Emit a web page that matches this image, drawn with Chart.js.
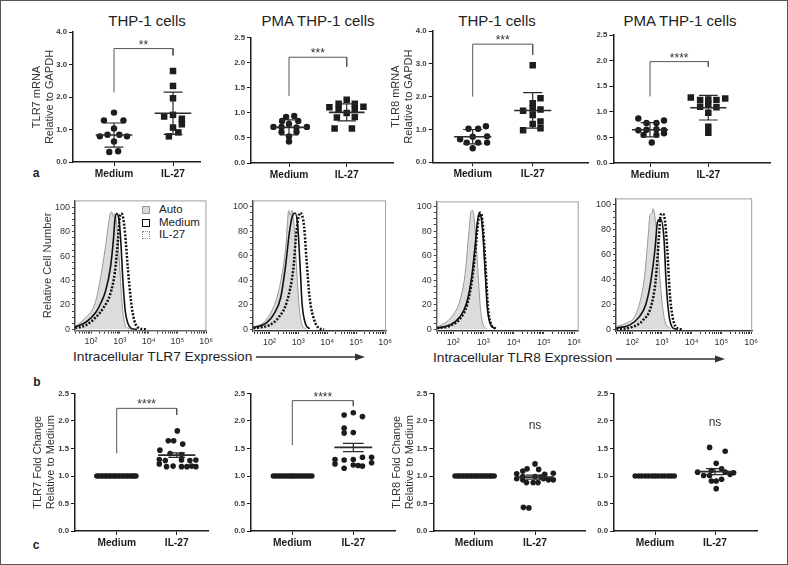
<!DOCTYPE html>
<html>
<head>
<meta charset="utf-8">
<script src="https://cdn.jsdelivr.net/npm/chart.js@4.4.1/dist/chart.umd.min.js"></script>
<style>
  html, body { margin: 0; padding: 0; background: #fff; }
  #fig { position: relative; width: 788px; height: 565px; overflow: hidden; font-family: "Liberation Sans", Arial, Helvetica, sans-serif; color: #222; }
  #fig canvas { position: absolute; }
  .t { position: absolute; white-space: nowrap; transform: translate(-50%, -50%); line-height: 1; }
  .tl { position: absolute; white-space: nowrap; transform: translate(0, -50%); line-height: 1; }
  .ttl { font-size: 15px; }
  .let { font-size: 12px; font-weight: bold; }
  .xt { font-size: 13.7px; }
  .lg { font-size: 11.5px; }
  .sw { position: absolute; width: 6px; height: 6px; transform: translate(-50%, -50%); }
  #frame { position: absolute; left: 0; top: 0; width: 788px; height: 565px; box-sizing: border-box; border: 1px solid #555; pointer-events: none; }
</style>
</head>
<body>
<div id="fig">
  <div class="t ttl" style="left:147px;top:20px">THP-1 cells</div>
  <div class="t ttl" style="left:318px;top:20px">PMA THP-1 cells</div>
  <div class="t ttl" style="left:497px;top:20px">THP-1 cells</div>
  <div class="t ttl" style="left:680px;top:20px">PMA THP-1 cells</div>

  <div class="t let" style="left:36px;top:173px">a</div>
  <div class="t let" style="left:37px;top:382px">b</div>
  <div class="t let" style="left:36px;top:545px">c</div>

  <div class="tl xt" style="left:73px;top:357px">Intracellular TLR7 Expression</div>
  <div class="tl xt" style="left:433px;top:358px">Intracellular TLR8 Expression</div>
  <svg width="788" height="565" style="position:absolute;left:0;top:0;pointer-events:none">
    <line x1="256" y1="357" x2="357" y2="357" stroke="#333" stroke-width="1.3"/>
    <polygon points="355,353.5 365,357 355,360.5" fill="#333"/>
    <line x1="616" y1="359" x2="717" y2="359" stroke="#333" stroke-width="1.3"/>
    <polygon points="715,355.5 725,359 715,362.5" fill="#333"/>
  </svg>

  <div class="sw" style="left:146px;top:210px;background:#d9d9d9;border:1px solid #999"></div>
  <div class="sw" style="left:146px;top:223px;background:#fff;border:1px solid #111"></div>
  <div class="sw" style="left:146px;top:235px;background:#fff;border:1px dotted #888"></div>
  <div class="tl lg" style="left:159px;top:210px">Auto</div>
  <div class="tl lg" style="left:159px;top:223px">Medium</div>
  <div class="tl lg" style="left:159px;top:235px">IL-27</div>
  <div id="frame"></div>
</div>
<script>
var cats = ['Medium', 'IL-27'];

// a: TLR7 / TLR8 mRNA relative to GAPDH (mean +/- SD)
var a1MedVal = [1.52, 1.28, 1.28, 1.03, 0.84, 0.84, 0.79, 0.79, 0.63, 0.31, 0.33];
var a1MedJit = [0, -0.17, 0.16, 0, -0.11, 0.09, -0.24, 0.22, 0, -0.08, 0.07];
var a1IlVal = [2.80, 2.34, 1.96, 1.45, 1.40, 1.33, 1.16, 1.06, 0.91, 0.79];
var a1IlJit = [0, 0, 0, 0, -0.15, 0.15, 0.15, 0, 0.09, -0.07];
var a1Mean = [0.83, 1.50];
var a1Sd = [0.37, 0.65];
var a1Bracket = [2.14, 3.49, 3.28];

var a2MedVal = [0.92, 0.94, 0.84, 0.84, 0.72, 0.72, 0.78, 0.71, 0.72, 0.62, 0.62, 0.53, 0.43];
var a2MedJit = [-0.05, 0.09, -0.12, 0.16, -0.27, -0.13, 0, 0.13, 0.31, -0.13, 0.13, 0, 0];
var a2IlVal = [1.26, 1.18, 1.18, 1.11, 1.12, 1.07, 1.07, 1.00, 0.91, 0.92, 0.69, 0.69];
var a2IlJit = [0, -0.14, 0.14, -0.30, 0.29, -0.14, 0.14, 0, -0.17, 0.14, -0.21, 0.09];
var a2Mean = [0.71, 1.01];
var a2Sd = [0.15, 0.17];
var a2Bracket = [1.34, 2.11, 1.92];

var a3MedVal = [1.02, 1.02, 1.10, 0.70, 0.78, 0.79, 0.60, 0.60, 0.60, 0.43];
var a3MedJit = [-0.07, 0.09, 0.22, -0.21, 0, 0.24, -0.10, 0.09, 0.24, 0];
var a3IlVal = [2.96, 1.95, 1.80, 1.57, 1.64, 1.61, 1.44, 1.24, 1.17, 0.98, 1.04];
var a3IlJit = [0, 0.13, 0, -0.16, 0, 0.13, 0, 0.13, 0, -0.16, 0.13];
var a3Mean = [0.78, 1.58];
var a3Sd = [0.22, 0.54];
var a3Bracket = [2.00, 3.60, 3.27];

var a4MedVal = [0.87, 0.83, 0.78, 0.78, 0.64, 0.65, 0.66, 0.64, 0.55, 0.55, 0.58, 0.40];
var a4MedJit = [-0.20, 0.24, -0.06, 0.11, -0.20, -0.06, 0.11, 0.24, -0.11, 0.11, 0.24, 0.03];
var a4IlVal = [1.28, 1.26, 1.23, 1.24, 1.23, 1.10, 1.15, 1.09, 0.98, 0.71, 0.59];
var a4IlJit = [-0.30, 0.29, -0.14, 0, 0.14, -0.14, 0, 0.14, 0, 0, 0];
var a4Mean = [0.65, 1.08];
var a4Sd = [0.14, 0.24];
var a4Bracket = [1.30, 1.98, 1.88];

// b: flow histograms, x in log10 units, y in % of max
var histTickLabels = ['10\u00b2', '10\u00b3', '10\u2074', '10\u2075', '10\u2076'];

var b1AutoX = [1.45, 1.72, 1.94, 2.11, 2.22, 2.33, 2.44, 2.52, 2.61, 2.67, 2.72, 2.78, 2.83, 2.92, 3.00, 3.08, 3.17, 3.28, 3.50];
var b1AutoY = [2, 7.4, 12.8, 19.4, 28.7, 42, 58, 71, 87, 95, 96.5, 92.5, 95, 79, 50, 21, 5, 1, 0];
var b1MedX = [1.45, 1.83, 2.17, 2.33, 2.50, 2.67, 2.78, 2.83, 2.90, 2.97, 3.03, 3.11, 3.19, 3.28, 3.39, 3.60];
var b1MedY = [2, 6, 14, 21, 31, 50, 74, 90, 95, 90, 74, 39, 15, 5, 1, 0];
var b1IlX = [1.45, 1.83, 2.17, 2.44, 2.67, 2.83, 2.94, 3.00, 3.06, 3.11, 3.19, 3.28, 3.39, 3.50, 3.67, 3.94];
var b1IlY = [1, 3.5, 10, 18, 29, 47, 74, 92.5, 95, 92.5, 77, 50, 23, 7.5, 1, 0];

var b2AutoX = [1.45, 1.78, 2.06, 2.22, 2.39, 2.56, 2.67, 2.72, 2.78, 2.87, 2.94, 3.02, 3.11, 3.28];
var b2AutoY = [2, 5, 14, 23, 39, 66, 97, 93, 97, 79, 50, 21, 5, 0];
var b2MedX = [1.45, 1.89, 2.17, 2.39, 2.56, 2.69, 2.80, 2.89, 2.98, 3.06, 3.13, 3.24, 3.39];
var b2MedY = [1.5, 5, 13, 26, 52, 79, 93, 95, 84, 52, 21, 5, 0.5];
var b2IlX = [1.45, 2.00, 2.33, 2.61, 2.83, 2.94, 3.06, 3.13, 3.20, 3.28, 3.39, 3.56, 3.72, 3.89];
var b2IlY = [1, 3.5, 10, 23, 50, 81, 95, 93, 84, 58, 26, 7, 1, 0];

var b3AutoX = [1.47, 1.78, 2.06, 2.22, 2.39, 2.52, 2.59, 2.64, 2.72, 2.81, 2.89, 2.98, 3.13];
var b3AutoY = [2, 6, 14, 23, 44, 79, 96, 97, 84, 52, 21, 5, 0];
var b3MedX = [1.47, 1.89, 2.22, 2.44, 2.61, 2.72, 2.80, 2.86, 2.91, 2.98, 3.06, 3.13, 3.22, 3.39];
var b3MedY = [1, 3.5, 10, 21, 42, 66, 87, 94, 93, 79, 47, 18, 5, 0.5];
var b3IlX = [1.47, 1.90, 2.24, 2.46, 2.63, 2.74, 2.82, 2.88, 2.93, 3.00, 3.08, 3.15, 3.24, 3.41];
var b3IlY = [1, 3, 9, 20, 41, 65, 86, 95, 94, 80, 48, 19, 5, 0.5];

var b4AutoX = [1.47, 1.80, 2.08, 2.24, 2.41, 2.55, 2.60, 2.66, 2.71, 2.79, 2.88, 2.98, 3.10, 3.29];
var b4AutoY = [2, 5, 10, 20, 41, 78, 92, 93, 97, 86, 60, 28, 7, 0.5];
var b4MedX = [1.47, 1.91, 2.24, 2.46, 2.63, 2.77, 2.85, 2.90, 2.97, 3.07, 3.14, 3.23, 3.34, 3.50];
var b4MedY = [1, 3.4, 10, 20, 39, 65, 86, 88, 88, 73, 39, 13, 2, 0];
var b4IlX = [1.47, 2.02, 2.35, 2.63, 2.79, 2.90, 2.96, 3.03, 3.10, 3.18, 3.26, 3.36, 3.51, 3.67];
var b4IlY = [0, 2, 7, 18, 39, 73, 92, 93, 88, 65, 31, 10, 1, 0];

// c: fold change relative to medium (mean +/- SEM)
var c1MedVal = [1, 1, 1, 1, 1, 1, 1, 1, 1, 1, 1, 1, 1, 1, 1, 1, 1, 1, 1, 1];
var c1MedJit = [-0.33, -0.30, -0.26, -0.23, -0.19, -0.16, -0.12, -0.09, -0.05, -0.02, 0.02, 0.05, 0.09, 0.12, 0.16, 0.19, 0.23, 0.26, 0.29, 0.32];
var c1IlVal = [1.82, 1.64, 1.64, 1.58, 1.47, 1.41, 1.39, 1.30, 1.28, 1.29, 1.28, 1.29, 1.22, 1.17, 1.18, 1.17, 1.17, 1.18, 1.17];
var c1IlJit = [0.01, -0.14, -0.05, 0.10, -0.28, -0.11, 0.08, -0.29, -0.19, 0.08, 0.22, 0.32, -0.29, -0.17, -0.06, 0.08, 0.17, 0.25, 0.32];
var c1Mean = [null, 1.38];
var c1Sem = [0, 0.04];
var c1Bracket = [1.41, 2.23, 2.11];

var c2MedVal = [1, 1, 1, 1, 1, 1, 1, 1, 1, 1, 1, 1, 1, 1, 1, 1, 1];
var c2MedJit = [-0.31, -0.27, -0.23, -0.19, -0.15, -0.11, -0.07, -0.03, 0.0, 0.04, 0.08, 0.12, 0.16, 0.20, 0.24, 0.28, 0.32];
var c2IlVal = [2.11, 2.15, 2.08, 1.87, 1.78, 1.79, 1.30, 1.29, 1.30, 1.34, 1.34, 1.20, 1.18, 1.24, 1.14, 1.22, 1.19];
var c2IlJit = [-0.15, 0, 0.15, -0.15, -0.15, 0, -0.30, -0.15, 0, 0.15, 0.30, 0, 0.15, 0.30, -0.15, -0.30, 0.08];
var c2Mean = [null, 1.52];
var c2Sem = [0, 0.075];
var c2Bracket = [1.56, 2.37, 2.27];

var c3MedVal = [1, 1, 1, 1, 1, 1, 1, 1, 1, 1, 1, 1, 1, 1, 1, 1, 1, 1, 1];
var c3MedJit = [-0.31, -0.27, -0.24, -0.20, -0.17, -0.13, -0.10, -0.06, -0.03, 0.01, 0.04, 0.08, 0.12, 0.15, 0.19, 0.22, 0.26, 0.29, 0.33];
var c3IlVal = [1.22, 1.13, 1.12, 1.09, 1.04, 1.05, 1.03, 0.99, 0.99, 0.98, 0.95, 0.93, 0.95, 0.93, 0.93, 0.88, 0.88, 0.88, 0.42, 0.43];
var c3IlJit = [0, -0.13, 0.06, -0.20, -0.30, 0.30, 0.16, -0.20, 0.0, 0.10, -0.30, -0.20, 0.14, 0.22, 0.30, -0.14, -0.03, 0.05, -0.10, -0.19];
var c3Mean = [null, 0.98];
var c3Sem = [0, 0.035];

var c4MedVal = [1, 1, 1, 1, 1, 1, 1, 1, 1, 1, 1, 1, 1];
var c4MedJit = [-0.33, -0.27, -0.22, -0.16, -0.11, -0.05, 0, 0.05, 0.11, 0.16, 0.22, 0.27, 0.32];
var c4IlVal = [1.52, 1.45, 1.23, 1.13, 1.10, 1.07, 1.06, 1.07, 1.01, 1.01, 1.03, 0.94, 0.91, 0.91, 0.77];
var c4IlJit = [-0.09, 0.17, 0.02, 0.11, -0.06, -0.29, 0.31, 0.17, -0.19, -0.09, 0.25, 0.11, -0.06, 0.02, 0.02];
var c4Mean = [null, 1.08];
var c4Sem = [0, 0.055];

// ---------------------------------------------------------------
var fig = document.getElementById('fig');
var FONT = '"Liberation Sans", Arial, Helvetica, sans-serif';
var INK = '#1c1c1c';
var MEAN_HALF = 0.31, CAP_HALF = 0.16;

var sigPlugin = {
  id: 'sig',
  afterDatasetsDraw: function (chart, args, opts) {
    if (!opts || !opts.text) return;
    var ctx = chart.ctx;
    var x = chart.scales.x.getPixelForValue(opts.x);
    var y = chart.scales.y.getPixelForValue(opts.y);
    ctx.save();
    ctx.font = opts.size + 'px ' + FONT;
    ctx.fillStyle = '#333';
    ctx.textAlign = 'center';
    ctx.textBaseline = opts.baseline;
    ctx.fillText(opts.text, x, y);
    ctx.restore();
  }
};

var framePlugin = {
  id: 'frame',
  beforeDatasetsDraw: function (chart) {
    var a = chart.chartArea, ctx = chart.ctx;
    ctx.save();
    ctx.strokeStyle = '#a0a0a0';
    ctx.lineWidth = 1;
    ctx.strokeRect(a.left + 0.5, a.top + 0.5, a.right - a.left - 1, a.bottom - a.top);
    ctx.restore();
  }
};

function place(area, yw, xh, pt, pr) {
  var left = Math.round(area.l - yw), top = Math.round(area.t - pt);
  var w = Math.round(area.r + pr - left), h = Math.round(area.b + xh - top);
  var c = document.createElement('canvas');
  c.width = w; c.height = h;
  c.style.left = left + 'px'; c.style.top = top + 'px';
  fig.appendChild(c);
  return { canvas: c, yw: area.l - left, xh: h - (area.b - top), pt: area.t - top, pr: w - (area.r - left) };
}

function dots(vals, jit, pos, shape, r) {
  return {
    data: vals.map(function (v, i) { return { x: pos + jit[i], y: v }; }),
    pointStyle: shape, pointRadius: r, pointBackgroundColor: INK, pointBorderColor: INK,
    pointBorderWidth: 0, order: 1
  };
}

function seg(pts, width, color) {
  return { data: pts, showLine: true, pointRadius: 0, borderColor: color || '#2a2a2a', borderWidth: width, fill: false, order: 0 };
}

function dotPanel(o) {
  var box = place(o.area, o.yTitle ? o.area.l - o.titleLeft : 30, 26, 12, 6);
  var unit = o.catX[1] - o.catX[0];
  var xMin = -(o.catX[0] - o.area.l) / unit;
  var xMax = 1 + (o.area.r - o.catX[1]) / unit;
  var ds = [dots(o.med, o.medJit, 0, 'circle', o.r), dots(o.il, o.ilJit, 1, o.ilShape, o.ilR)];
  for (var g = 0; g < 2; g++) {
    if (o.mean[g] == null) continue;
    var m = o.mean[g], lo = m - o.err[g], hi = m + o.err[g];
    ds.push(seg([{ x: g - MEAN_HALF, y: m }, { x: g + MEAN_HALF, y: m }], 1.6));
    ds.push(seg([{ x: g - o.cap, y: hi }, { x: g + o.cap, y: hi }, { x: g, y: hi }, { x: g, y: lo },
      { x: g - o.cap, y: lo }, { x: g + o.cap, y: lo }], 1.2));
  }
  if (o.bracket) {
    ds.push(seg([{ x: 0, y: o.bracket[0] }, { x: 0, y: o.bracket[1] }, { x: 1, y: o.bracket[1] }, { x: 1, y: o.bracket[2] }], 1, '#555'));
  }
  new Chart(box.canvas, {
    type: 'scatter',
    data: { datasets: ds },
    plugins: [sigPlugin],
    options: {
      responsive: false, animation: false, events: [],
      layout: { autoPadding: false, padding: { top: box.pt, right: box.pr, left: 0, bottom: 0 } },
      plugins: { legend: { display: false }, tooltip: { enabled: false }, sig: o.sig },
      scales: {
        x: {
          type: 'linear', min: xMin, max: xMax,
          afterBuildTicks: function (s) { s.ticks = [{ value: 0 }, { value: 1 }]; },
          afterFit: function (s) { s.height = box.xh; },
          ticks: {
            callback: function (v, i) { return cats[i]; },
            font: { family: FONT, size: 10.2, weight: 'bold' }, color: INK, padding: 2, autoSkip: false, maxRotation: 0
          },
          grid: { drawOnChartArea: false, tickLength: 4, color: INK },
          border: { color: INK, width: 1.5 }
        },
        y: {
          min: 0, max: o.yMax,
          afterFit: function (s) { s.width = box.yw; },
          ticks: {
            stepSize: o.yStep, callback: function (v) { return v.toFixed(1); },
            font: { family: FONT, size: 7.8, weight: 'bold' }, color: '#3a3a3a', padding: 2
          },
          grid: { drawOnChartArea: false, tickLength: 4, color: INK },
          border: { color: INK, width: 1.5 },
          title: { display: !!o.yTitle, text: o.yTitle, font: { family: FONT, size: 11 }, color: '#333', padding: 0 }
        }
      }
    }
  });
}

function curve(xs, ys, color, width, dash, fillColor, order) {
  return {
    data: xs.map(function (x, i) { return { x: x, y: ys[i] }; }),
    borderColor: color, borderWidth: width, borderDash: dash || [],
    fill: fillColor ? 'origin' : false, backgroundColor: fillColor || 'transparent',
    pointRadius: 0, cubicInterpolationMode: 'monotone', order: order
  };
}

function histPanel(o) {
  var box = place(o.area, o.yTitle ? o.area.l - o.titleLeft : 26, 24, 4, 4);
  var uy = (o.y0 - o.y100) / 100;
  var xMin = 2 - (o.x2 - o.area.l) / o.dec, xMax = 2 + (o.area.r - o.x2) / o.dec;
  var yMin = -(o.area.b - o.y0) / uy, yMax = 100 + (o.y100 - o.area.t) / uy;
  new Chart(box.canvas, {
    type: 'line',
    data: {
      datasets: [
        curve(o.autoX, o.autoY, '#999', 1, null, '#dcdcdc', 2),
        curve(o.medX, o.medY, '#111', 1.6, null, null, 1),
        curve(o.ilX, o.ilY, '#111', 2.5, [2, 1.6], null, 0)
      ]
    },
    plugins: [framePlugin],
    options: {
      responsive: false, animation: false, events: [],
      layout: { autoPadding: false, padding: { top: box.pt, right: box.pr, left: 0, bottom: 0 } },
      plugins: { legend: { display: false }, tooltip: { enabled: false } },
      scales: {
        x: {
          type: 'linear', min: xMin, max: xMax,
          afterBuildTicks: function (s) {
            var t = [];
            for (var n = 1; n <= 6; n++) {
              for (var k = 1; k <= 9; k++) {
                var v = n + Math.log10(k);
                if (v >= s.min && v <= s.max) t.push({ value: v });
              }
            }
            s.ticks = t;
          },
          afterFit: function (s) { s.height = box.xh; },
          ticks: {
            callback: function (v) {
              var n = Math.round(v);
              return Math.abs(v - n) < 1e-6 && n >= 2 ? histTickLabels[n - 2] : '';
            },
            font: { family: FONT, size: 9 }, color: '#333', padding: 3, autoSkip: false, maxRotation: 0
          },
          grid: { drawOnChartArea: false, tickLength: 3, color: '#333' },
          border: { color: '#333', width: 1.3 }
        },
        y: {
          min: yMin, max: yMax,
          afterBuildTicks: function (s) {
            var t = [];
            for (var v = 0; v <= 100; v += 5) t.push({ value: v });
            s.ticks = t;
          },
          afterFit: function (s) { s.width = box.yw; },
          ticks: {
            callback: function (v) { return v % 20 === 0 ? String(v) : ''; },
            font: { family: FONT, size: 9 }, color: '#333', padding: 2, autoSkip: false
          },
          grid: { drawOnChartArea: false, tickLength: 3, color: '#444' },
          border: { color: '#444', width: 1.2 },
          title: { display: !!o.yTitle, text: o.yTitle, font: { family: FONT, size: 11.2 }, color: '#333', padding: 0 }
        }
      }
    }
  });
}

// row a
dotPanel({ area: { l: 73, t: 32, r: 200, b: 162 }, catX: [114, 173], yMax: 4, yStep: 1,
  titleLeft: 30.4, yTitle: ['TLR7 mRNA', 'Relative to GAPDH'],
  med: a1MedVal, medJit: a1MedJit, il: a1IlVal, ilJit: a1IlJit, ilShape: 'rect', r: 3.2, ilR: 4.6,
  mean: a1Mean, err: a1Sd, cap: CAP_HALF, bracket: a1Bracket,
  sig: { text: '**', x: 0.5, y: a1Bracket[1], size: 12, baseline: 'alphabetic' } });
dotPanel({ area: { l: 251, t: 37.7, r: 393, b: 163 }, catX: [289, 346.7], yMax: 2.5, yStep: 0.5,
  med: a2MedVal, medJit: a2MedJit, il: a2IlVal, ilJit: a2IlJit, ilShape: 'rect', r: 3.2, ilR: 4.6,
  mean: a2Mean, err: a2Sd, cap: CAP_HALF, bracket: a2Bracket,
  sig: { text: '***', x: 0.5, y: a2Bracket[1], size: 12, baseline: 'alphabetic' } });
dotPanel({ area: { l: 432.7, t: 31, r: 588, b: 162.3 }, catX: [472.7, 532.7], yMax: 4, yStep: 1,
  titleLeft: 389.4, yTitle: ['TLR8 mRNA', 'Relative to GAPDH'],
  med: a3MedVal, medJit: a3MedJit, il: a3IlVal, ilJit: a3IlJit, ilShape: 'rect', r: 3.2, ilR: 4.6,
  mean: a3Mean, err: a3Sd, cap: CAP_HALF, bracket: a3Bracket,
  sig: { text: '***', x: 0.5, y: a3Bracket[1], size: 12, baseline: 'alphabetic' } });
dotPanel({ area: { l: 613.3, t: 35, r: 770, b: 163 }, catX: [650, 708.3], yMax: 2.5, yStep: 0.5,
  med: a4MedVal, medJit: a4MedJit, il: a4IlVal, ilJit: a4IlJit, ilShape: 'rect', r: 3.2, ilR: 4.6,
  mean: a4Mean, err: a4Sd, cap: CAP_HALF, bracket: a4Bracket,
  sig: { text: '****', x: 0.5, y: a4Bracket[1], size: 12, baseline: 'alphabetic' } });

// row b
histPanel({ area: { l: 75, t: 196.7, r: 212, b: 330.5 }, x2: 91.7, dec: 30, y100: 204, y0: 329.3,
  titleLeft: 40.8, yTitle: 'Relative Cell Number',
  autoX: b1AutoX, autoY: b1AutoY, medX: b1MedX, medY: b1MedY, ilX: b1IlX, ilY: b1IlY });
histPanel({ area: { l: 253, t: 196.7, r: 391, b: 331 }, x2: 270, dec: 30, y100: 203.3, y0: 329.3,
  autoX: b2AutoX, autoY: b2AutoY, medX: b2MedX, medY: b2MedY, ilX: b2IlX, ilY: b2IlY });
histPanel({ area: { l: 436.7, t: 198, r: 580, b: 331 }, x2: 453.3, dec: 30.5, y100: 203.3, y0: 329.3,
  autoX: b3AutoX, autoY: b3AutoY, medX: b3MedX, medY: b3MedY, ilX: b3IlX, ilY: b3IlY });
histPanel({ area: { l: 616, t: 195, r: 757, b: 331 }, x2: 632.7, dec: 30.8, y100: 201.7, y0: 329.3,
  autoX: b4AutoX, autoY: b4AutoY, medX: b4MedX, medY: b4MedY, ilX: b4IlX, ilY: b4IlY });

// row c
dotPanel({ area: { l: 75, t: 393.5, r: 208, b: 531 }, catX: [116.7, 176.7], yMax: 2.5, yStep: 0.5,
  titleLeft: 31, yTitle: ['TLR7 Fold Change', 'Relative to Medium'],
  med: c1MedVal, medJit: c1MedJit, il: c1IlVal, ilJit: c1IlJit, ilShape: 'circle', r: 2.8, ilR: 2.8,
  mean: c1Mean, err: c1Sem, cap: 0.14, bracket: c1Bracket,
  sig: { text: '****', x: 0.5, y: c1Bracket[1], size: 12, baseline: 'alphabetic' } });
dotPanel({ area: { l: 251, t: 393.5, r: 395, b: 531 }, catX: [292.3, 353.3], yMax: 2.5, yStep: 0.5,
  med: c2MedVal, medJit: c2MedJit, il: c2IlVal, ilJit: c2IlJit, ilShape: 'circle', r: 2.8, ilR: 2.8,
  mean: c2Mean, err: c2Sem, cap: 0.17, bracket: c2Bracket,
  sig: { text: '****', x: 0.5, y: c2Bracket[1], size: 12, baseline: 'alphabetic' } });
dotPanel({ area: { l: 433.3, t: 393.5, r: 585, b: 531 }, catX: [474, 535], yMax: 2.5, yStep: 0.5,
  titleLeft: 390.4, yTitle: ['TLR8 Fold Change', 'Relative to Medium'],
  med: c3MedVal, medJit: c3MedJit, il: c3IlVal, ilJit: c3IlJit, ilShape: 'circle', r: 2.8, ilR: 2.8,
  mean: c3Mean, err: c3Sem, cap: 0.15,
  sig: { text: 'ns', x: 1, y: 1.92, size: 12, baseline: 'middle' } });
dotPanel({ area: { l: 614, t: 393.5, r: 757, b: 531 }, catX: [655, 715], yMax: 2.5, yStep: 0.5,
  med: c4MedVal, medJit: c4MedJit, il: c4IlVal, ilJit: c4IlJit, ilShape: 'circle', r: 2.8, ilR: 2.8,
  mean: c4Mean, err: c4Sem, cap: 0.15,
  sig: { text: 'ns', x: 1, y: 1.97, size: 12, baseline: 'middle' } });
</script>
</body>
</html>
